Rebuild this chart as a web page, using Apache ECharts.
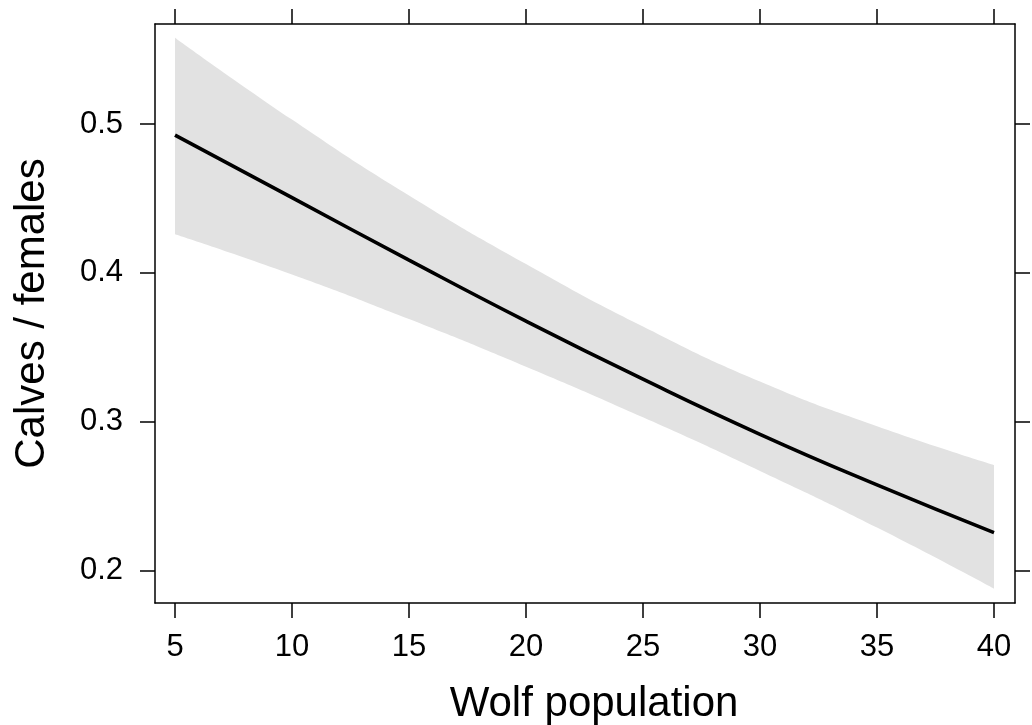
<!DOCTYPE html>
<html>
<head>
<meta charset="utf-8">
<script src="https://cdn.jsdelivr.net/npm/echarts@6/dist/echarts.min.js"></script>
<style>html,body{margin:0;padding:0;background:#fff;}#c{width:1032px;height:725px;}</style>
</head>
<body>
<div id="c"></div>
<script>
const wolfPop = [5, 10, 15, 20, 25, 30, 35, 40];
const fitted = [0.4926, 0.4506, 0.4086, 0.3676, 0.3286, 0.2916, 0.2576, 0.2256];
const upperCI = [0.558, 0.503, 0.452, 0.406, 0.364, 0.327, 0.297, 0.271];
const lowerCI = [0.426, 0.399, 0.369, 0.337, 0.303, 0.267, 0.229, 0.188];
const xTicks = [5, 10, 15, 20, 25, 30, 35, 40];
const yTicks = [0.2, 0.3, 0.4, 0.5];

const FONT = 'Liberation Sans';
const axisLineStyle = { color: '#000', width: 1.5 };
const xMin = 4.1453, xMax = 40.897, yMin = 0.1783, yMax = 0.5672;

const chart = echarts.init(document.getElementById('c'));
chart.setOption({
  animation: false,
  backgroundColor: '#fff',
  grid: { left: 155, right: 17, top: 24, bottom: 122, containLabel: false, outerBoundsMode: 'none' },
  xAxis: [
    {
      type: 'value', position: 'bottom', min: xMin, max: xMax, z: 10,
      axisLine: { show: true, onZero: false, lineStyle: axisLineStyle },
      axisTick: { show: true, length: 15, customValues: xTicks, lineStyle: axisLineStyle },
      axisLabel: { customValues: xTicks, fontSize: 31, color: '#000', fontFamily: FONT, margin: 29 },
      splitLine: { show: false },
      name: 'Wolf population', nameLocation: 'middle', nameGap: 80,
      nameTextStyle: { fontSize: 42, color: '#000', fontFamily: FONT, padding: [0, 0, 0, 18] }
    },
    {
      type: 'value', position: 'top', min: xMin, max: xMax, z: 10,
      axisLine: { show: true, onZero: false, lineStyle: axisLineStyle },
      axisTick: { show: true, length: 15, customValues: xTicks, lineStyle: axisLineStyle },
      axisLabel: { show: false },
      splitLine: { show: false }
    }
  ],
  yAxis: [
    {
      type: 'value', position: 'left', min: yMin, max: yMax, z: 10,
      axisLine: { show: true, onZero: false, lineStyle: axisLineStyle },
      axisTick: { show: true, length: 15, customValues: yTicks, lineStyle: axisLineStyle },
      axisLabel: { customValues: yTicks, fontSize: 31, color: '#000', fontFamily: FONT, margin: 32 },
      splitLine: { show: false },
      name: 'Calves / females', nameLocation: 'middle', nameGap: 102,
      nameTextStyle: { fontSize: 42, color: '#000', fontFamily: FONT }
    },
    {
      type: 'value', position: 'right', min: yMin, max: yMax, z: 10,
      axisLine: { show: true, onZero: false, lineStyle: axisLineStyle },
      axisTick: { show: true, length: 15, customValues: yTicks, lineStyle: axisLineStyle },
      axisLabel: { show: false },
      splitLine: { show: false }
    }
  ],
  series: [
    {
      name: 'upper',
      type: 'line',
      xAxisIndex: 0, yAxisIndex: 0,
      data: wolfPop.map((x, i) => [x, upperCI[i]]),
      smooth: true,
      symbol: 'none',
      lineStyle: { width: 0, opacity: 0 },
      areaStyle: { color: '#e2e2e2', opacity: 1, origin: 'start' },
      z: 1
    },
    {
      name: 'lower',
      type: 'line',
      xAxisIndex: 0, yAxisIndex: 0,
      data: wolfPop.map((x, i) => [x, lowerCI[i]]),
      smooth: true,
      symbol: 'none',
      lineStyle: { width: 0, opacity: 0 },
      areaStyle: { color: '#ffffff', opacity: 1, origin: 'start' },
      z: 2
    },
    {
      name: 'fit',
      type: 'line',
      xAxisIndex: 0, yAxisIndex: 0,
      data: wolfPop.map((x, i) => [x, fitted[i]]),
      smooth: true,
      symbol: 'none',
      lineStyle: { color: '#000', width: 3.6 },
      z: 3
    }
  ]
});
</script>
</body>
</html>
